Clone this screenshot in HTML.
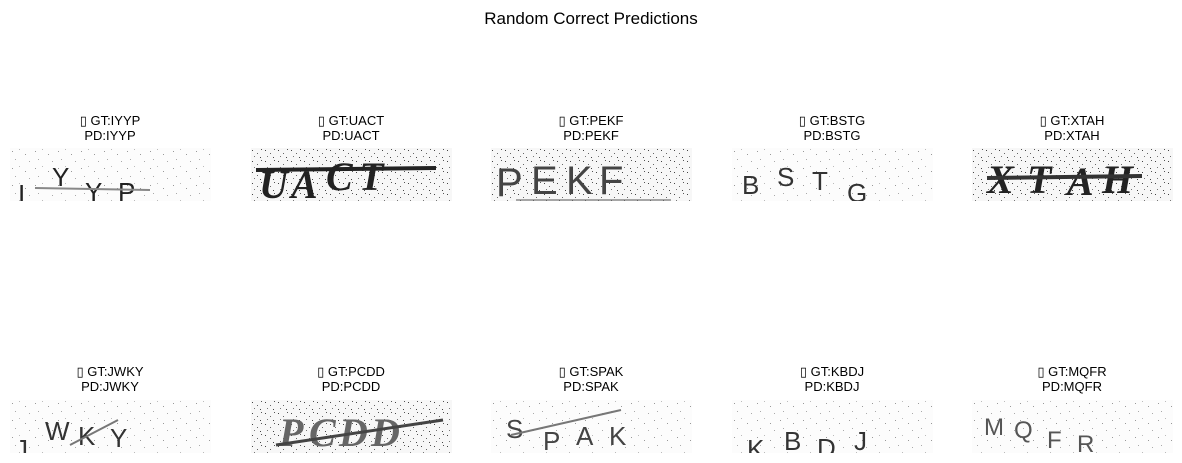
<!DOCTYPE html>
<html><head><meta charset="utf-8"><style>
html,body{margin:0;padding:0;background:#fff;}
svg{display:block;font-family:"Liberation Sans","DejaVu Sans",sans-serif;}
</style></head><body>
<svg width="1182" height="463" viewBox="0 0 1182 463">
<defs>
<pattern id="noise" width="23" height="17" patternUnits="userSpaceOnUse">
<rect width="23" height="17" fill="#fcfcfc"/>
<rect x="2" y="3" width="1" height="1" fill="#999"/><rect x="9" y="1" width="1" height="1" fill="#bbb"/>
<rect x="15" y="6" width="1" height="1" fill="#999"/><rect x="5" y="11" width="1" height="1" fill="#aaa"/>
<rect x="19" y="13" width="1" height="1" fill="#aaa"/>
</pattern>
<pattern id="noise2" width="13" height="11" patternUnits="userSpaceOnUse">
<rect width="13" height="11" fill="#f7f7f7"/>
<rect x="1" y="2" width="1" height="1" fill="#444"/><rect x="6" y="5" width="1" height="1" fill="#666"/>
<rect x="10" y="1" width="1" height="1" fill="#555"/><rect x="3" y="8" width="1" height="1" fill="#777"/>
<rect x="9" y="9" width="1" height="1" fill="#444"/>
</pattern>
<clipPath id="c"><rect width="201" height="53"/></clipPath>
</defs>
<text x="591" y="24" text-anchor="middle" font-size="17" fill="#000">Random Correct Predictions</text>
<g id="panels"></g>
</svg>
<script>
const labels=["IYYP","UACT","PEKF","BSTG","XTAH","JWKY","PCDD","SPAK","KBDJ","MQFR"];
const xs=[10,251,491,732,972];
const NS="http://www.w3.org/2000/svg";
const root=document.getElementById("panels");
const specs=[
 {st:"sans",c:"#222",l:[[8,55,26],[42,38,26],[75,53,26],[108,53,26]],ln:[25,40,140,42,"#888",2]},
 {st:"serif",c:"#222",l:[[8,50,40],[40,50,40],[75,42,40],[108,42,40]],ln:[5,22,185,20,"#222",4]},
 {st:"sans",c:"#444",l:[[5,48,40],[40,46,40],[75,46,40],[108,46,40]],ln:[25,52,180,52,"#555",1]},
 {st:"sans",c:"#333",l:[[10,46,26],[45,38,26],[80,42,26],[115,54,26]],ln:null},
 {st:"serif",c:"#222",l:[[15,45,40],[55,45,40],[95,47,40],[130,45,40]],ln:[15,30,170,28,"#333",4]},
 {st:"sans",c:"#333",l:[[5,58,26],[35,40,26],[68,45,26],[100,47,26]],ln:[60,45,108,20,"#777",2]},
 {st:"serif",c:"#666",l:[[28,46,40],[58,46,40],[88,46,40],[120,46,40]],ln:[25,45,192,20,"#444",3]},
 {st:"sans",c:"#444",l:[[15,38,26],[52,50,26],[85,45,26],[118,45,26]],ln:[20,35,130,10,"#777",2]},
 {st:"sans",c:"#333",l:[[15,58,26],[52,50,26],[85,57,26],[122,50,26]],ln:null},
 {st:"sans",c:"#555",l:[[12,35,24],[42,38,24],[75,48,24],[105,52,24]],ln:null}
];
labels.forEach((lab,i)=>{
 const row=Math.floor(i/5), col=i%5;
 const x0=xs[col], y0=row?400:148, ty=row?376:125;
 const g=document.createElementNS(NS,"g");
 
 
 [["GT:"+lab,ty],["PD:"+lab,ty+15]].forEach((t,k)=>{
  const e=document.createElementNS(NS,"text");
  e.setAttribute("x",x0+100);e.setAttribute("y",t[1]);e.setAttribute("text-anchor","middle");
  e.setAttribute("font-size","13");
  e.textContent=(k==0?"\u25AF ":"")+t[0];
  
  
  g.appendChild(e);
 });
 const ig=document.createElementNS(NS,"g");
 ig.setAttribute("transform",`translate(${x0},${y0})`);
 ig.setAttribute("clip-path","url(#c)");
 
 
 const sp=specs[i];
 const bg=document.createElementNS(NS,"rect");
 bg.setAttribute("width",201);bg.setAttribute("height",53);
 bg.setAttribute("fill",(i==1||i==2||i==4||i==6)?"url(#noise2)":"url(#noise)");
 ig.appendChild(bg);
 sp.l.forEach((L,k)=>{
  const e=document.createElementNS(NS,"text");
  e.setAttribute("x",L[0]);e.setAttribute("y",L[1]);e.setAttribute("font-size",L[2]);
  e.setAttribute("fill",sp.c);
  if(sp.st=="serif"){e.setAttribute("font-family","Liberation Serif, serif");e.setAttribute("font-weight","bold");e.setAttribute("font-style","italic");}
  e.textContent=lab[k];
  ig.appendChild(e);
 });
 if(sp.ln){
  const l=document.createElementNS(NS,"line");
  l.setAttribute("x1",sp.ln[0]);l.setAttribute("y1",sp.ln[1]);l.setAttribute("x2",sp.ln[2]);l.setAttribute("y2",sp.ln[3]);
  l.setAttribute("stroke",sp.ln[4]);l.setAttribute("stroke-width",sp.ln[5]);
  ig.appendChild(l);
 }
 g.appendChild(ig);
 root.appendChild(g);
});
</script>
</body></html>
